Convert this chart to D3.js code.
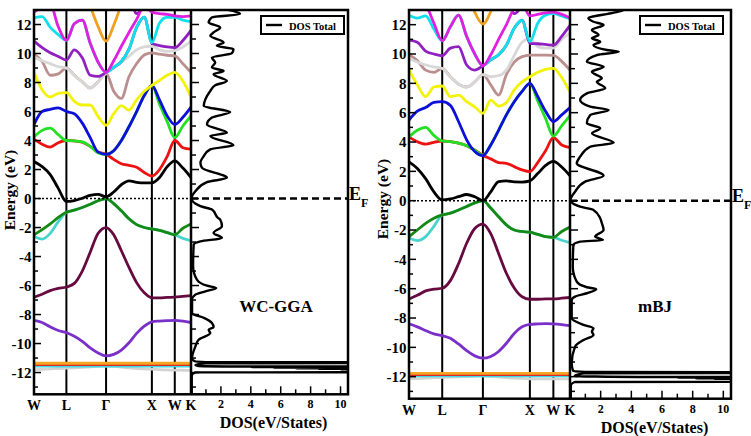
<!DOCTYPE html>
<html><head><meta charset="utf-8">
<script src="https://cdn.jsdelivr.net/npm/d3@7"></script>
<style>body{margin:0;background:#fff}svg{display:block}text{font-family:"Liberation Serif","Times New Roman",serif;font-weight:bold;fill:#000}</style>
</head><body><svg id="c" width="751" height="436"></svg>
<script>
// ---------- DATA ----------
const kGrid = [0, 0.177, 0.354, 0.530, 0.707, 0.880, 1.054, 1.227, 1.400, 1.573, 1.740, 1.907, 2.073, 2.240, 2.407, 2.573, 2.740, 2.907, 3.073, 3.250, 3.427];
const kPoints = [0, 0.707, 1.573, 2.573, 3.073, 3.427];
const kLabels = ["W", "L", "Γ", "X", "W", "K"];
const energyTicks = [-12, -10, -8, -6, -4, -2, 0, 2, 4, 6, 8, 10, 12];
const dosTicks = [2, 4, 6, 8, 10];

// WC-GGA bands (eV) on kGrid
const wcGreyLow   = [-11.8,-11.78,-11.75,-11.72,-11.7,-11.68,-11.65,-11.6,-11.57,-11.55,-11.58,-11.62,-11.67,-11.72,-11.75,-11.77,-11.8,-11.82,-11.83,-11.84,-11.85];
const wcCyanBot   = [-11.55,-11.55,-11.55,-11.55,-11.55,-11.55,-11.55,-11.55,-11.55,-11.55,-11.55,-11.55,-11.55,-11.55,-11.55,-11.55,-11.55,-11.55,-11.55,-11.55,-11.55];
const wcRedBot    = [-11.45,-11.45,-11.45,-11.45,-11.45,-11.45,-11.45,-11.45,-11.45,-11.45,-11.45,-11.45,-11.45,-11.45,-11.45,-11.45,-11.45,-11.45,-11.45,-11.45,-11.45];
const wcOrangeBot = [-11.36,-11.36,-11.36,-11.36,-11.36,-11.36,-11.36,-11.36,-11.36,-11.36,-11.36,-11.36,-11.36,-11.36,-11.36,-11.36,-11.36,-11.36,-11.36,-11.36,-11.36];
const wcViolet    = [-8.4,-8.55,-8.85,-9.1,-9.25,-9.5,-9.85,-10.3,-10.65,-10.85,-10.75,-10.45,-9.95,-9.3,-8.8,-8.5,-8.45,-8.42,-8.4,-8.45,-8.55];
const wcMaroon    = [-6.8,-6.6,-6.35,-6.2,-6.1,-5.85,-5.0,-3.7,-2.4,-2.0,-2.5,-3.6,-4.75,-5.8,-6.5,-6.85,-6.85,-6.82,-6.8,-6.75,-6.7];
const wcCyanLow   = [-2.6,-2.8,-2.4,-1.6,-0.95,-0.8,-0.62,-0.4,-0.15,0.0,-0.35,-0.85,-1.4,-1.8,-2.0,-2.1,-2.2,-2.35,-2.5,-2.75,-2.9];
const wcGreenDark = [-2.5,-2.15,-1.75,-1.3,-0.95,-0.8,-0.62,-0.4,-0.15,0.0,-0.35,-0.85,-1.4,-1.8,-2.0,-2.1,-2.2,-2.35,-2.5,-2.05,-1.75];
const wcBlack     = [2.55,2.2,1.65,0.7,-0.2,-0.14,0.02,0.22,0.28,0.12,0.45,0.95,1.22,1.12,1.08,1.08,1.45,2.2,2.6,2.1,1.45];
const wcRed       = [4.1,3.75,3.55,3.85,4.0,3.97,3.88,3.6,3.2,3.05,2.7,2.4,2.28,2.15,1.8,1.55,2.0,2.9,4.0,3.5,3.4];
const wcGreen     = [4.25,4.7,4.85,4.4,4.0,3.98,3.9,3.6,3.15,3.05,3.3,4.0,4.95,6.0,7.1,7.8,6.5,5.3,4.2,5.0,5.7];
const wcBlue      = [5.1,6.0,6.15,6.25,6.0,5.85,5.2,4.2,3.2,3.05,3.3,4.0,4.95,6.0,7.1,7.8,6.8,5.7,5.1,5.6,6.3];
const wcYellow    = [8.7,7.5,7.0,7.25,7.3,6.7,6.45,6.45,5.65,5.05,5.85,6.4,6.1,6.8,7.4,7.8,8.15,8.5,8.7,8.1,7.0];
const wcBrown     = [9.95,9.45,8.5,8.6,9.0,8.5,8.05,7.62,8.05,8.65,7.4,6.9,8.4,9.3,9.9,10.05,9.95,9.88,9.83,9.3,8.7];
const wcGrey      = [9.75,9.5,9.3,9.1,9.0,8.5,8.05,7.62,8.05,8.65,9.0,9.4,9.8,10.25,10.45,10.5,10.25,10.15,10.2,10.45,10.85];
const wcPurple    = [10.85,10.4,10.05,9.8,9.55,10.25,9.7,8.5,8.42,8.7,9.05,9.45,10.3,11.8,12.5,10.7,10.55,10.45,10.4,10.9,11.6];
const wcPurpleTop = [15,15,15,15,15,15,15,15,15,15,15,15,14.2,12.75,13.5,15,15,15,15,15,15];
const wcCyanUp    = [12.45,12.55,11.8,11.3,10.9,12.05,12.3,10.7,9.4,8.7,9.05,9.45,10.3,11.8,12.5,10.75,12.1,12.5,12.5,12.3,12.2];
const wcMagenta   = [12.85,13.2,13.4,11.85,10.9,12.05,12.3,10.7,9.4,8.7,9.5,10.5,11.45,12.35,13.3,12.85,12.75,12.7,12.6,12.55,12.6];
const wcOrange    = [15,15,15,15,15,15,15,13.3,11.85,10.85,11.95,13.4,15,15,15,15,15,15,15,15,15];

// mBJ bands (eV) on kGrid
const mbjGreyLow   = [-12.15,-12.13,-12.1,-12.07,-12.05,-12.03,-12.01,-11.99,-11.97,-11.95,-11.98,-12.02,-12.06,-12.1,-12.12,-12.14,-12.15,-12.15,-12.15,-12.15,-12.15];
const mbjCyanBot   = [-11.95,-11.95,-11.95,-11.95,-11.95,-11.95,-11.95,-11.95,-11.95,-11.95,-11.95,-11.95,-11.95,-11.95,-11.95,-11.95,-11.95,-11.95,-11.95,-11.95,-11.95];
const mbjRedBot    = [-11.85,-11.85,-11.85,-11.85,-11.85,-11.85,-11.85,-11.85,-11.85,-11.85,-11.85,-11.85,-11.85,-11.85,-11.85,-11.85,-11.85,-11.85,-11.85,-11.85,-11.85];
const mbjOrangeBot = [-11.77,-11.77,-11.77,-11.77,-11.77,-11.77,-11.77,-11.77,-11.77,-11.77,-11.77,-11.77,-11.77,-11.77,-11.77,-11.77,-11.77,-11.77,-11.77,-11.77,-11.77];
const mbjViolet    = [-8.4,-8.6,-8.85,-9.08,-9.2,-9.38,-9.77,-10.22,-10.58,-10.74,-10.62,-10.28,-9.72,-9.05,-8.6,-8.43,-8.4,-8.38,-8.4,-8.45,-8.52];
const mbjMaroon    = [-6.7,-6.45,-6.15,-6.03,-5.97,-5.45,-4.3,-2.9,-1.9,-1.6,-2.25,-3.6,-4.95,-5.95,-6.55,-6.72,-6.72,-6.7,-6.7,-6.65,-6.6];
const mbjCyanLow   = [-2.55,-2.72,-2.45,-1.75,-0.97,-0.85,-0.63,-0.4,-0.15,0.0,-0.5,-1.1,-1.65,-2.0,-2.1,-2.15,-2.3,-2.45,-2.5,-2.7,-2.86];
const mbjGreenDark = [-2.45,-2.0,-1.55,-1.2,-0.97,-0.85,-0.63,-0.4,-0.15,0.0,-0.5,-1.1,-1.65,-2.0,-2.1,-2.15,-2.3,-2.45,-2.5,-2.1,-1.8];
const mbjBlack     = [2.65,2.2,1.5,0.6,0.05,0.12,0.27,0.42,0.27,0.0,0.6,1.3,1.35,1.28,1.27,1.35,1.85,2.4,2.68,2.3,1.7];
const mbjRed       = [4.35,4.02,3.85,3.98,4.07,4.02,3.92,3.75,3.45,3.1,2.85,2.6,2.55,2.32,2.1,1.98,2.6,3.4,4.3,3.8,3.62];
const mbjGreen     = [4.35,4.8,5.0,4.45,4.07,4.02,3.92,3.75,3.45,3.1,3.8,4.8,5.85,6.75,7.45,8.0,6.8,5.6,4.4,5.1,5.8];
const mbjBlue      = [5.5,6.1,6.35,6.7,6.75,6.5,5.4,4.15,3.35,3.07,3.8,4.8,5.85,6.75,7.45,8.0,7.1,6.1,5.4,5.85,6.35];
const mbjYellow    = [8.9,7.9,7.1,7.75,7.82,7.1,7.2,6.75,6.4,5.96,6.85,6.45,6.7,7.55,8.1,8.45,8.75,8.95,9.02,8.4,7.4];
const mbjBrown     = [9.95,9.55,8.9,8.75,9.02,8.45,7.95,7.75,8.1,8.6,7.9,7.2,8.6,9.45,9.82,9.93,9.93,9.93,9.9,9.5,8.9];
const mbjGrey      = [9.7,9.45,9.25,9.12,9.02,8.45,7.95,7.75,8.1,8.6,8.45,8.52,8.9,9.9,10.8,11.05,10.5,10.4,10.4,11.0,11.4];
const mbjPurple    = [10.95,10.8,10.2,10.0,9.88,10.4,10.5,9.25,8.9,9.2,9.6,9.95,10.6,11.75,12.3,10.73,10.7,10.65,10.6,11.2,11.95];
const mbjPurpleTop = [15,15,15,15,15,15,15,15,15,15,15,15,14.2,12.75,13.4,15,15,15,15,15,15];
const mbjCyanUp    = [12.65,12.45,12.6,11.7,10.9,11.85,12.65,11.2,10.0,9.2,9.6,9.95,10.6,11.75,12.3,10.85,12.1,12.65,12.75,12.6,12.4];
const mbjMagenta   = [13.0,13.5,13.3,12.1,10.9,11.85,12.65,11.2,10.0,9.2,9.95,11.0,12.0,13.1,13.4,12.6,12.7,12.8,12.85,12.7,12.45];
const mbjOrange    = [15,15,15,15,15,15,15,14.5,12.85,12.05,12.9,14.5,15,15,15,15,15,15,15,15,15];

// Total DOS: [energy (eV), DOS (states/eV)]
const wcDos = [[13.1,2.07],[12.72,3.28],[12.49,1.4],[12.14,1.18],[11.8,1.95],[11.45,1.51],[11.22,1.29],[10.76,2.18],[10.53,1.73],[10.3,2.84],[10.02,2.73],[9.72,1.4],[9.38,1.62],[9.03,1.4],[8.8,2.18],[8.57,1.51],[8.1,2.4],[7.81,1.62],[7.42,1.29],[6.84,0.96],[6.38,0.85],[5.96,2.62],[5.58,1.4],[5.11,1.07],[4.54,2.4],[4.31,1.29],[3.68,2.84],[3.39,1.29],[2.92,0.85],[2.47,0.63],[2.12,0.74],[1.43,2.4],[1.13,1.07],[0.5,0.29],[0.0,0.03],[-0.53,0.63],[-0.76,1.4],[-1.33,1.8],[-1.45,1.95],[-1.91,2.07],[-2.37,1.51],[-2.72,2.07],[-2.95,0.63],[-3.18,0.18],[-4.68,0.14],[-5.6,0.4],[-6.01,1.07],[-6.17,1.69],[-6.4,0.96],[-6.63,0.29],[-6.98,0.07],[-7.9,0.07],[-8.25,0.9],[-8.59,1.4],[-8.87,1.51],[-9.05,1.18],[-9.28,1.29],[-9.74,0.51],[-10.21,0.29],[-11.01,0.07],[-11.22,0.25],[-11.28,1.0],[-11.3,30],[-11.33,30],[-11.36,1.0],[-11.48,0.3],[-11.55,0.5],[-11.58,2.6],[-11.6,30],[-11.62,4],[-11.64,30],[-11.66,5.5],[-11.68,30],[-11.7,7],[-11.72,30],[-11.74,8.5],[-11.76,30],[-11.78,10],[-11.8,30],[-11.96,30],[-11.99,0.3],[-12.2,0.05],[-13.5,0.05]];
const mbjDos = [[13.2,2.5],[13.0,3.5],[12.82,2.85],[12.43,1.2],[12.2,1.53],[11.98,2.19],[11.64,1.43],[11.3,1.86],[11.07,1.43],[10.84,1.97],[10.61,1.53],[10.27,2.41],[10.16,3.18],[9.93,1.75],[9.48,1.1],[9.13,2.19],[8.79,1.43],[8.34,2.08],[8.11,1.75],[7.66,2.3],[7.32,1.1],[6.86,0.66],[6.41,1.32],[6.18,2.52],[5.84,1.32],[5.28,1.1],[4.94,1.97],[4.59,1.43],[3.95,2.85],[3.68,1.32],[3.0,0.66],[2.55,0.44],[1.7,2.19],[1.3,0.99],[0.61,0.33],[0.05,0.03],[-0.41,0.66],[-0.63,1.53],[-1.2,1.97],[-1.54,2.08],[-2.0,2.19],[-2.45,1.64],[-2.68,2.15],[-2.79,0.66],[-3.02,0.22],[-4.5,0.18],[-5.52,0.44],[-5.9,1.1],[-6.04,1.71],[-6.31,1.1],[-6.54,0.33],[-6.77,0.11],[-8.02,0.11],[-8.47,0.88],[-8.7,1.53],[-8.93,1.43],[-9.15,1.53],[-9.5,0.88],[-9.95,0.33],[-11.08,0.11],[-11.6,0.2],[-11.68,1.0],[-11.7,30],[-11.73,30],[-11.76,1.0],[-11.95,0.3],[-12.02,5.7],[-12.04,30],[-12.06,7],[-12.08,30],[-12.1,8.2],[-12.12,30],[-12.14,9.4],[-12.16,30],[-12.18,10.5],[-12.2,30],[-12.33,30],[-12.36,0.3],[-12.6,0.05],[-13.5,0.05]];

// ---------- STYLE ----------
const col = {
  greyLow:"#d2d2d2", cyanBot:"#40d8e0", redBot:"#e02828", orangeBot:"#f5a623",
  violet:"#7a30c8", maroon:"#660a40", cyanLow:"#48d4cc", greenDark:"#148a14",
  black:"#000000", red:"#ee1111", green:"#22e022", blue:"#0c10d8", yellow:"#f2f20a",
  brown:"#bc8f8f", grey:"#d8d8d8", purple:"#9020c0", cyanUp:"#10e0ea",
  magenta:"#e020e0", orange:"#f0a020"
};
function bandList(v){ return [
  [v.greyLow,"greyLow"],[v.cyanBot,"cyanBot"],[v.redBot,"redBot"],[v.orangeBot,"orangeBot"],
  [v.violet,"violet"],[v.maroon,"maroon"],[v.cyanLow,"cyanLow"],[v.greenDark,"greenDark"],
  [v.black,"black"],[v.red,"red"],[v.green,"green"],[v.blue,"blue"],[v.yellow,"yellow"],
  [v.brown,"brown"],[v.grey,"grey"],[v.purple,"purple"],[v.purpleTop,"purple"],[v.cyanUp,"cyanUp"],
  [v.magenta,"magenta"],[v.orange,"orange"]]; }

const panels = [
  {name:"WC-GGA", dos:wcDos, x0:34, x1:191, x2:348, yTop:10, yBot:394.3, yLabelX:15, yLabelY:190,
   bands: bandList({greyLow:wcGreyLow,cyanBot:wcCyanBot,redBot:wcRedBot,orangeBot:wcOrangeBot,violet:wcViolet,maroon:wcMaroon,cyanLow:wcCyanLow,greenDark:wcGreenDark,black:wcBlack,red:wcRed,green:wcGreen,blue:wcBlue,yellow:wcYellow,brown:wcBrown,grey:wcGrey,purple:wcPurple,purpleTop:wcPurpleTop,cyanUp:wcCyanUp,magenta:wcMagenta,orange:wcOrange})},
  {name:"mBJ", dos:mbjDos, x0:409, x1:570, x2:731, yTop:10, yBot:398.7, yLabelX:388, yLabelY:199,
   bands: bandList({greyLow:mbjGreyLow,cyanBot:mbjCyanBot,redBot:mbjRedBot,orangeBot:mbjOrangeBot,violet:mbjViolet,maroon:mbjMaroon,cyanLow:mbjCyanLow,greenDark:mbjGreenDark,black:mbjBlack,red:mbjRed,green:mbjGreen,blue:mbjBlue,yellow:mbjYellow,brown:mbjBrown,grey:mbjGrey,purple:mbjPurple,purpleTop:mbjPurpleTop,cyanUp:mbjCyanUp,magenta:mbjMagenta,orange:mbjOrange})}
];

const svg = d3.select("#c");
svg.append("rect").attr("width",751).attr("height",436).attr("fill","#fff");
const defs = svg.append("defs");

panels.forEach((p, idx) => {
  const y = d3.scaleLinear().domain([-13.5, 13]).range([p.yBot, p.yTop]);
  const xk = d3.scaleLinear().domain([0, kPoints[kPoints.length-1]]).range([p.x0, p.x1]);
  const xd = d3.scaleLinear().domain([0, 10.5]).range([p.x1, p.x2]);
  defs.append("clipPath").attr("id","cb"+idx).append("rect")
    .attr("x",p.x0).attr("y",p.yTop).attr("width",p.x1-p.x0).attr("height",p.yBot-p.yTop);
  defs.append("clipPath").attr("id","cd"+idx).append("rect")
    .attr("x",p.x1).attr("y",p.yTop).attr("width",p.x2-p.x1).attr("height",p.yBot-p.yTop);
  const g = svg.append("g");

  // high-symmetry verticals
  kPoints.slice(1,-1).forEach(k => {
    g.append("line").attr("x1",xk(k)).attr("x2",xk(k)).attr("y1",p.yTop).attr("y2",p.yBot)
      .attr("stroke","#000").attr("stroke-width",2);
  });

  // bands
  const line = d3.line().x((d,i)=>xk(kGrid[i])).y(d=>y(d)).curve(d3.curveMonotoneX);
  const bg = g.append("g").attr("clip-path",`url(#cb${idx})`);
  p.bands.forEach(([vals,c]) => {
    bg.append("path").attr("d",line(vals)).attr("fill","none").attr("stroke",col[c])
      .attr("stroke-width",2.8).attr("stroke-linejoin","round").attr("stroke-linecap","round");
  });

  // Fermi level lines
  g.append("line").attr("x1",p.x0).attr("x2",p.x1).attr("y1",y(0)).attr("y2",y(0))
    .attr("stroke","#000").attr("stroke-width",1.5).attr("stroke-dasharray","2,2");
  g.append("line").attr("x1",p.x1).attr("x2",p.x2).attr("y1",y(0)).attr("y2",y(0))
    .attr("stroke","#000").attr("stroke-width",2.5).attr("stroke-dasharray","7,4");

  // DOS curve
  const dline = d3.line().x(d=>xd(d[1])).y(d=>y(d[0])).curve(d3.curveMonotoneY);
  g.append("g").attr("clip-path",`url(#cd${idx})`).append("path").attr("d",dline(p.dos))
    .attr("fill","none").attr("stroke","#000").attr("stroke-width",2.4).attr("stroke-linejoin","round");

  // frames
  g.append("rect").attr("x",p.x0).attr("y",p.yTop).attr("width",p.x2-p.x0).attr("height",p.yBot-p.yTop)
    .attr("fill","none").attr("stroke","#000").attr("stroke-width",2.5);
  g.append("line").attr("x1",p.x1).attr("x2",p.x1).attr("y1",p.yTop).attr("y2",p.yBot)
    .attr("stroke","#000").attr("stroke-width",2.5);

  // energy ticks (band panel left & DOS panel left)
  d3.range(-13, 13).forEach(e => {
    const major = e % 2 === 0;
    g.append("line").attr("x1",p.x0).attr("x2",p.x0+(major?7:4)).attr("y1",y(e)).attr("y2",y(e))
      .attr("stroke","#000").attr("stroke-width",1.5);
    g.append("line").attr("x1",p.x1).attr("x2",p.x1+(major?8:5)).attr("y1",y(e)).attr("y2",y(e))
      .attr("stroke","#000").attr("stroke-width",1.5);
  });
  energyTicks.forEach(e => {
    g.append("text").attr("x",p.x0-2.5).attr("y",y(e)).attr("dy","0.35em").attr("text-anchor","end")
      .attr("font-size",15).text(e);
  });
  // DOS ticks
  d3.range(1, 11).forEach(d => {
    const major = d % 2 === 0;
    g.append("line").attr("x1",xd(d)).attr("x2",xd(d)).attr("y1",p.yBot).attr("y2",p.yBot-(major?8:5))
      .attr("stroke","#000").attr("stroke-width",1.5);
  });
  dosTicks.forEach(d => {
    g.append("text").attr("x",xd(d)).attr("y",p.yBot+14).attr("text-anchor","middle")
      .attr("font-size",12).text(d);
  });
  // k labels
  kPoints.forEach((k,i) => {
    g.append("text").attr("x",xk(k)).attr("y",p.yBot+16).attr("text-anchor","middle")
      .attr("font-size",14).text(kLabels[i]);
  });
  // axis titles
  g.append("text").attr("transform",`translate(${p.yLabelX},${p.yLabelY}) rotate(-90)`)
    .attr("text-anchor","middle").attr("font-size",15.5).text("Energy (eV)");
  g.append("text").attr("x",(p.x1+p.x2)/2+4).attr("y",p.yBot+34).attr("text-anchor","middle")
    .attr("font-size",16).text("DOS(eV/States)");
  // E_F
  const ef = g.append("text").attr("x",p.x2+1).attr("y",y(0)+1).attr("font-size",18);
  ef.append("tspan").text("E");
  ef.append("tspan").attr("font-size",12).attr("dy",7).text("F");
  // method name
  g.append("text").attr("x",p.x1+85).attr("y",312).attr("text-anchor","middle")
    .attr("font-size",17).text(p.name);
  // legend
  const lx = p.x1 + 70;
  g.append("rect").attr("x",lx).attr("y",16).attr("width",83).attr("height",18)
    .attr("fill","#fff").attr("stroke","#000").attr("stroke-width",2);
  g.append("line").attr("x1",lx+5).attr("x2",lx+21).attr("y1",25).attr("y2",25)
    .attr("stroke","#000").attr("stroke-width",2.4);
  g.append("text").attr("x",lx+28).attr("y",29.5).attr("font-size",10.5).text("DOS Total");
});
</script></body></html>
